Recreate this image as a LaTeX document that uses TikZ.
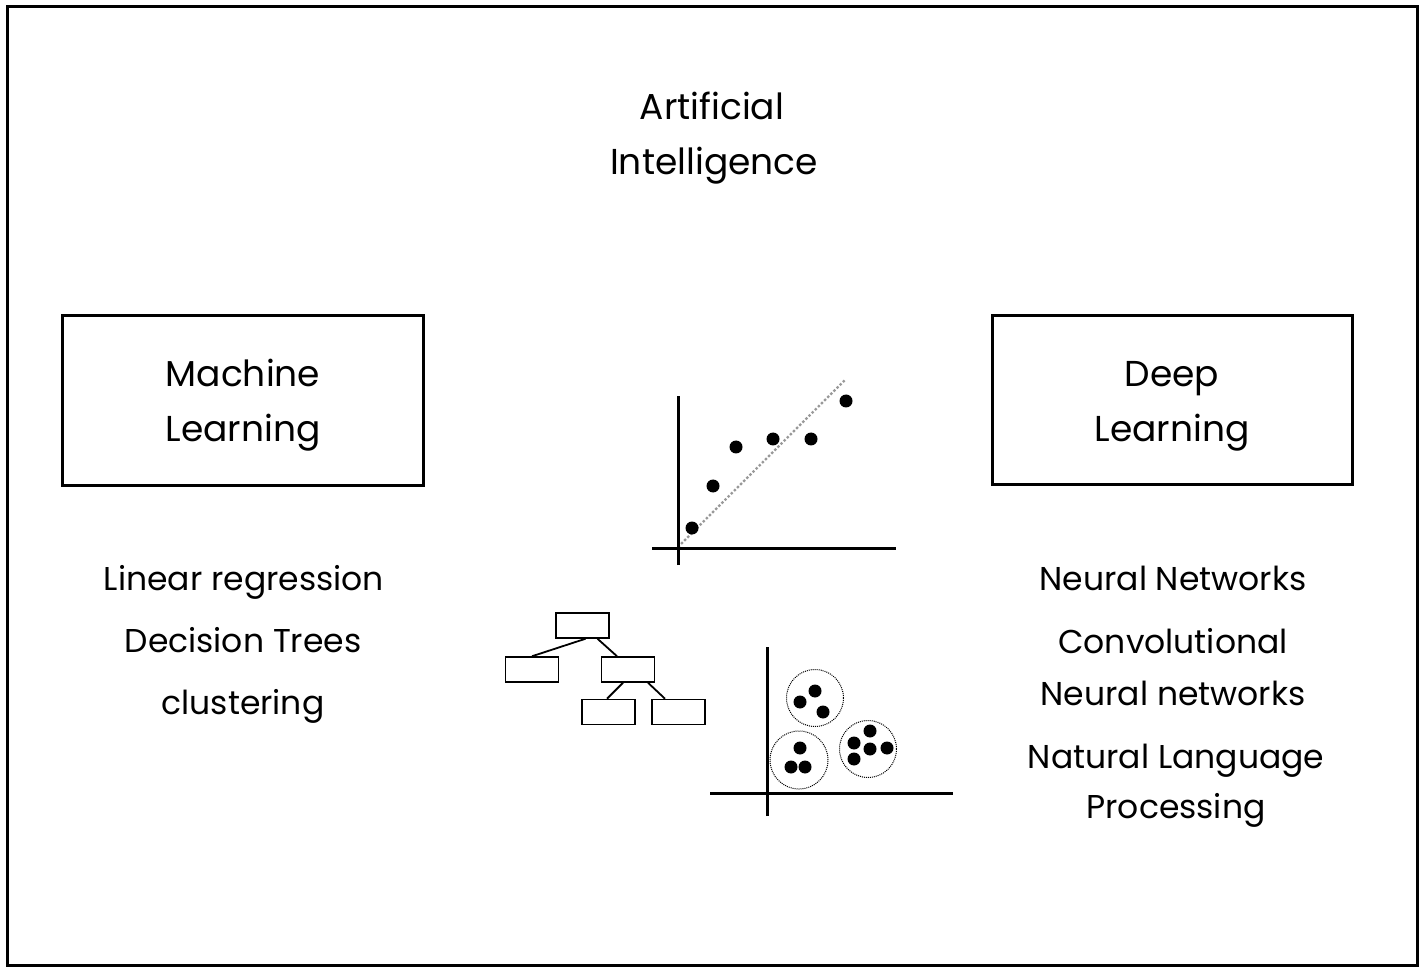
\documentclass[tikz,border=0pt]{standalone}
\usepackage{fontspec}
\setmainfont{Poppins}
\begin{document}
\begin{tikzpicture}[x=1pt,y=-1pt,
  txt/.style={font=\fontsize{36}{40}\selectfont, anchor=base, inner sep=0pt},
  item/.style={font=\fontsize{33}{40}\selectfont, anchor=base, inner sep=0pt},
  bigbox/.style={draw, line width=3pt, inner sep=0pt},
  axisline/.style={line width=3pt},
  pt/.style={circle, fill=black, inner sep=0pt, minimum size=13pt},
  leaf/.style={draw, line width=1.5pt, minimum width=53pt, minimum height=25pt, inner sep=0pt},
  branch/.style={line width=1.8pt},
  ring/.style={draw, circle, densely dotted, line width=1pt, inner sep=0pt, minimum size=57pt},
  trend/.style={gray!80, dotted, line width=2.4pt}
]
\useasboundingbox (0,0) rectangle (1425,973);
\node[bigbox, minimum width=1410pt, minimum height=958pt] (frame) at (712,486) {};

% title
\node[txt] (ai1) at (712,120) {Artificial};
\node[txt] (ai2) at (714,175) {Intelligence};

% boxes
\node[bigbox, minimum width=361pt, minimum height=170pt] (ml) at (242.5,401) {};
\node[txt] (ml1) at (243,387) {Machine};
\node[txt] (ml2) at (243,442) {Learning};
\node[bigbox, minimum width=360pt, minimum height=169pt] (dl) at (1172,400.5) {};
\node[txt] (dl1) at (1172,387) {Deep};
\node[txt] (dl2) at (1172,442) {Learning};

% lists
\node[item] (l1) at (244,590) {Linear regression};
\node[item] (l2) at (243,652) {Decision Trees};
\node[item] (l3) at (243,714) {clustering};
\node[item] (r1) at (1173,590) {Neural Networks};
\node[item] (r2) at (1173,653) {Convolutional};
\node[item] (r3) at (1173,705) {Neural networks};
\node[item] (r4) at (1176,768) {Natural Language};
\node[item] (r5) at (1176,818) {Processing};

% regression plot
\coordinate (sy0) at (678,565);
\coordinate (sy1) at (678,396);
\coordinate (sx0) at (652,548);
\coordinate (sx1) at (896,548);
\coordinate (tr0) at (678,547);
\coordinate (tr1) at (845,380);
\draw[trend] (tr0) -- (tr1);
\draw[axisline] (sy0) -- (sy1);
\draw[axisline] (sx0) -- (sx1);
\node[pt] (p1) at (692,528) {};
\node[pt] (p2) at (713,486) {};
\node[pt] (p3) at (736,447) {};
\node[pt] (p4) at (773,439) {};
\node[pt] (p5) at (811,439) {};
\node[pt] (p6) at (846,401) {};

% decision tree
\node[leaf] (t0) at (582.5,625.5) {};
\node[leaf] (t1) at (532,669.5) {};
\node[leaf] (t2) at (628,669.5) {};
\node[leaf] (t3) at (608.5,712) {};
\node[leaf] (t4) at (678.5,712) {};
\draw[branch] ([xshift=3pt]t0.south) -- (t1.north);
\draw[branch] ([xshift=15pt]t0.south) -- ([xshift=-11pt]t2.north);
\draw[branch] ([xshift=-5pt]t2.south) -- ([xshift=-1.5pt]t3.north);
\draw[branch] ([xshift=20pt]t2.south) -- ([xshift=-13.5pt]t4.north);

% clustering plot
\coordinate (cy0) at (767,816);
\coordinate (cy1) at (767,647);
\coordinate (cx0) at (710,793);
\coordinate (cx1) at (953,793);
\draw[axisline] (cy0) -- (cy1);
\draw[axisline] (cx0) -- (cx1);
\node[ring] (c1) at (815,698) {};
\node[ring, minimum size=58pt] (c2) at (799,760) {};
\node[ring] (c3) at (868,749) {};
\node[pt] (d11) at (800,702) {};
\node[pt] (d12) at (815,691) {};
\node[pt] (d13) at (823,712) {};
\node[pt] (d21) at (800,748) {};
\node[pt] (d22) at (791,767) {};
\node[pt] (d23) at (805,767) {};
\node[pt] (d31) at (870,731) {};
\node[pt] (d32) at (854,743) {};
\node[pt] (d33) at (870,749) {};
\node[pt] (d34) at (887,748) {};
\node[pt] (d35) at (854,759) {};
\end{tikzpicture}
\end{document}
